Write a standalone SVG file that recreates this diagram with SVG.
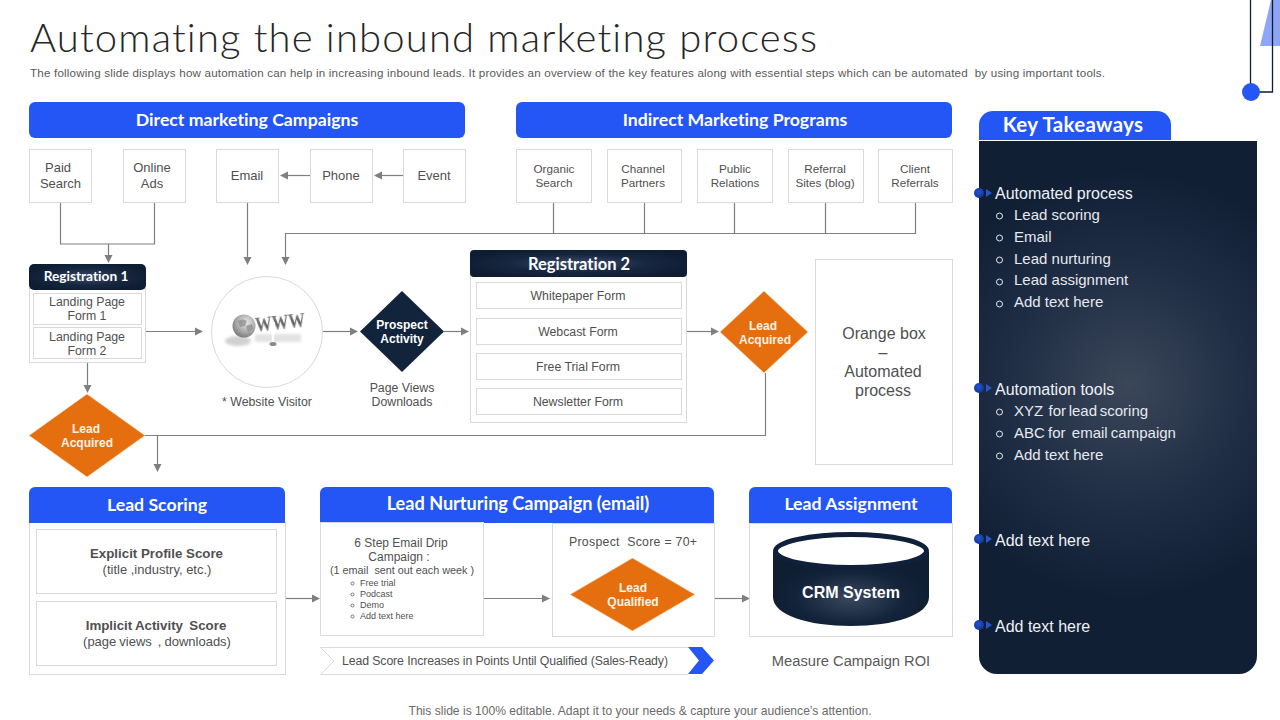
<svg xmlns="http://www.w3.org/2000/svg" width="1280" height="720" viewBox="0 0 1280 720">
<style>
text{font-family:"Liberation Sans",Arial,sans-serif;fill:#505050;text-anchor:middle;white-space:pre;font-variant-ligatures:none}
.h{font-family:Lato,"Liberation Sans",sans-serif;font-weight:700;fill:#fff;font-size:17.7px}
.box{fill:#fff;stroke:#d9d9d9;stroke-width:1}
.b12{font-size:12.300px}.b13{font-size:13px}
.blue{fill:#2456f5}
.org{fill:#e56f0f;stroke:#fbe3c8;stroke-width:.6}
.ow{fill:#fdf3e6;font-weight:700;font-size:12px}
.w{fill:#eef1f6;text-anchor:start;font-size:16px}
.w2{fill:#e6e9ef;text-anchor:start;font-size:15px}
.bul{fill:none;stroke:#e6e9ef;stroke-width:1}
.con path{fill:none;stroke:#7f7f7f;stroke-width:1.200}
.con polygon{fill:#7f7f7f}
</style>
<defs>
<radialGradient id="nav" cx="50%" cy="50%" r="55%"><stop offset="0" stop-color="#3a4b68"/><stop offset=".6" stop-color="#17263f"/><stop offset="1" stop-color="#0f1d33"/></radialGradient>
<radialGradient id="cyl" cx="50%" cy="62%" r="50%"><stop offset="0" stop-color="#39485f"/><stop offset=".7" stop-color="#13233a"/><stop offset="1" stop-color="#0f1e33"/></radialGradient>
<radialGradient id="pan" gradientUnits="userSpaceOnUse" cx="1128" cy="385" r="215"><stop offset="0" stop-color="#3b4659"/><stop offset=".55" stop-color="#1f2e45"/><stop offset="1" stop-color="#111f35"/></radialGradient>
<radialGradient id="ball" cx="45%" cy="40%" r="60%"><stop offset="0" stop-color="#2456d8"/><stop offset="1" stop-color="#14358f"/></radialGradient>
<radialGradient id="gl" cx="60%" cy="35%" r="70%"><stop offset="0" stop-color="#e9e9e9"/><stop offset=".6" stop-color="#a8a8a8"/><stop offset="1" stop-color="#777"/></radialGradient>
<linearGradient id="ww" x1="0" y1="0" x2="0" y2="1"><stop offset="0" stop-color="#8c8c8c"/><stop offset=".6" stop-color="#5f5f5f"/><stop offset="1" stop-color="#b5b5b5"/></linearGradient>
<filter id="soft" x="-20%" y="-20%" width="140%" height="140%"><feGaussianBlur stdDeviation="1.500"/></filter>
<filter id="soft2" x="-10%" y="-10%" width="120%" height="120%"><feGaussianBlur stdDeviation=".45"/></filter>
</defs>
<rect width="1280" height="720" fill="#fff"/>

<g id="title">
<text x="30" y="52" textLength="787" lengthAdjust="spacing" style="text-anchor:start;font-family:Lato,'Liberation Sans',sans-serif;font-weight:300;font-size:40px;fill:#262626">Automating the inbound marketing process</text>
<text x="30" y="77" style="text-anchor:start;font-size:11.600px;fill:#595959" textLength="1075" lengthAdjust="spacing">The following slide displays how automation can help in increasing inbound leads. It provides an overview of the key features along with essential steps which can be automated  by using important tools.</text>
</g>
<g id="corner-decoration">
<polygon points="1260,46 1280,46 1280,0 1271,0" fill="#8fa5f5"/>
<path d="M1250.500 0V92M1272.500 0V92H1251" fill="none" stroke="#0f1c33" stroke-width="1.300"/>
<circle cx="1251" cy="92" r="9" fill="#2456f5"/>
</g>

<g id="connectors" class="con">
<path d="M60.500 203V244H154.500V203M108.500 244V256"/><polygon points="104.500,255 112.500,255 108.500,263"/>
<path d="M247.500 203V257"/><polygon points="243.500,257 251.500,257 247.500,265"/>
<path d="M310 175.500H287"/><polygon points="288,171.500 288,179.500 280,175.500"/>
<path d="M403 175.500H381"/><polygon points="382,171.500 382,179.500 374,175.500"/>
<path d="M553.500 203V233.500M644.500 203V233.500M734.500 203V233.500M825.500 203V233.500M915.500 203V233.500H285.500V257"/><polygon points="281.500,257 289.500,257 285.500,265"/>
<path d="M146 331.500H195"/><polygon points="195,327.500 195,335.500 203,331.500"/>
<path d="M323 331.500H350"/><polygon points="350,327.500 350,335.500 358,331.500"/>
<path d="M444 331.500H461"/><polygon points="461,327.500 461,335.500 469,331.500"/>
<path d="M687 331.500H711"/><polygon points="711,327.500 711,335.500 719,331.500"/>
<path d="M87.500 363V385"/><polygon points="83.500,385 91.500,385 87.500,393"/>
<path d="M144 435.500H765.500V373"/>
<path d="M157.500 436V464"/><polygon points="153.500,464 161.500,464 157.500,472"/>
<path d="M286 598.500H312"/><polygon points="312,594.500 312,602.500 320,598.500"/>
<path d="M484 598.500H542"/><polygon points="542,594.500 542,602.500 550,598.500"/>
<path d="M715 598.500H742"/><polygon points="742,594.500 742,602.500 750,598.500"/>
</g>

<g id="direct-header"><rect x="29" y="102" width="436" height="36" rx="6" class="blue"/><text x="247" y="126" class="h">Direct marketing Campaigns</text></g>
<g id="indirect-header"><rect x="516" y="102" width="436" height="36" rx="6" class="blue"/><text x="735" y="126" class="h">Indirect Marketing Programs</text></g>

<g id="paid-search"><rect x="29.500" y="149.500" width="62" height="53" class="box"/><text class="b13"><tspan x="58" y="172">Paid</tspan><tspan x="60.500" y="188">Search</tspan></text></g>
<g id="online-ads"><rect x="123.500" y="149.500" width="62" height="53" class="box"/><text class="b13"><tspan x="152" y="172">Online</tspan><tspan x="152" y="188">Ads</tspan></text></g>
<g id="email"><rect x="216.500" y="149.500" width="62" height="53" class="box"/><text class="b13" x="247" y="180">Email</text></g>
<g id="phone"><rect x="310.500" y="149.500" width="62" height="53" class="box"/><text class="b13" x="341" y="180">Phone</text></g>
<g id="event"><rect x="403.500" y="149.500" width="62" height="53" class="box"/><text class="b13" x="434" y="180">Event</text></g>

<g id="organic-search"><rect x="516.500" y="149.500" width="75" height="53" class="box"/><text style="font-size:11.700px"><tspan x="554" y="173">Organic</tspan><tspan x="554" y="187">Search</tspan></text></g>
<g id="channel-partners"><rect x="607.500" y="149.500" width="74" height="53" class="box"/><text style="font-size:11.700px"><tspan x="643" y="173">Channel</tspan><tspan x="643" y="187">Partners</tspan></text></g>
<g id="public-relations"><rect x="697.500" y="149.500" width="75" height="53" class="box"/><text style="font-size:11.700px"><tspan x="735" y="173">Public</tspan><tspan x="735" y="187">Relations</tspan></text></g>
<g id="referral-sites"><rect x="788.500" y="149.500" width="75" height="53" class="box"/><text style="font-size:11.700px"><tspan x="825" y="173">Referral</tspan><tspan x="825" y="187">Sites (blog)</tspan></text></g>
<g id="client-referrals"><rect x="878.500" y="149.500" width="74" height="53" class="box"/><text style="font-size:11.700px"><tspan x="915" y="173">Client</tspan><tspan x="915" y="187">Referrals</tspan></text></g>

<g id="registration-1">
<rect x="29.500" y="288.500" width="116" height="74" class="box"/>
<rect x="29" y="264" width="117" height="26" rx="5" fill="url(#nav)"/>
<text class="h" x="86" y="281" style="font-size:13.700px">Registration 1</text>
<rect x="33.500" y="293.500" width="108" height="31" class="box"/>
<text class="b12"><tspan x="87" y="306">Landing Page</tspan><tspan x="87" y="320">Form 1</tspan></text>
<rect x="33.500" y="327.500" width="108" height="31" class="box"/>
<text class="b12"><tspan x="87" y="341">Landing Page</tspan><tspan x="87" y="355">Form 2</tspan></text>
</g>

<g id="website-visitor">
<circle cx="267" cy="332" r="55.500" class="box"/>
<ellipse cx="238" cy="341" rx="13" ry="5" fill="#bdbdbd" opacity=".7" filter="url(#soft)"/>
<rect x="255" y="334" width="46" height="8" fill="#cfcfcf" opacity=".6" filter="url(#soft)"/>
<circle cx="244" cy="326" r="11.500" fill="url(#gl)" filter="url(#soft2)"/>
<path d="M238 321q5-3 9 0l-2 5-5 1zM246 326l6-2 1 5-5 3z" fill="#8a8a8a" opacity=".7" filter="url(#soft2)"/>
<text x="256" y="332" transform="rotate(-6 256 332)" textLength="50" lengthAdjust="spacingAndGlyphs" filter="url(#soft2)" style="text-anchor:start;font-family:'Liberation Serif',serif;font-size:22px;font-weight:700;fill:url(#ww)">WWW</text>
<path d="M271 322l4 0-1 20h-2z" fill="#fff"/><ellipse cx="273" cy="344" rx="3.500" ry="2" fill="#8a8a8a"/>
<text class="b12" x="267" y="406">* Website Visitor</text>
</g>

<g id="prospect-activity">
<polygon points="402,291 444,331.500 402,372 360,331.500" fill="#12233c"/>
<text class="ow" style="fill:#fff"><tspan x="402" y="329">Prospect</tspan><tspan x="402" y="343">Activity</tspan></text>
<text class="b12"><tspan x="402" y="392">Page Views</tspan><tspan x="402" y="406">Downloads</tspan></text>
</g>

<g id="registration-2">
<rect x="470.500" y="275.500" width="216" height="147" class="box"/>
<rect x="470" y="250" width="217" height="27" rx="4" fill="url(#nav)"/>
<text class="h" x="579" y="270" style="font-size:16.500px">Registration 2</text>
<rect x="476.500" y="282.500" width="205" height="26" class="box"/><text class="b12" x="578" y="300">Whitepaper Form</text>
<rect x="476.500" y="318.500" width="205" height="26" class="box"/><text class="b12" x="578" y="336">Webcast Form</text>
<rect x="476.500" y="353.500" width="205" height="26" class="box"/><text class="b12" x="578" y="371">Free Trial Form</text>
<rect x="476.500" y="388.500" width="205" height="26" class="box"/><text class="b12" x="578" y="406">Newsletter Form</text>
</g>

<g id="lead-acquired-2"><polygon points="764,291 808,332 764,373 720,332" class="org"/><text class="ow"><tspan x="763" y="330">Lead</tspan><tspan x="765" y="344">Acquired</tspan></text></g>

<g id="orange-box"><rect x="815.500" y="259.500" width="137" height="205" class="box"/>
<text style="font-size:16px"><tspan x="884" y="339">Orange box</tspan><tspan x="883" y="358">–</tspan><tspan x="883" y="377">Automated</tspan><tspan x="883" y="396">process</tspan></text></g>

<g id="lead-acquired-1"><polygon points="87,394 145,435.500 87,477 29,435.500" class="org"/><text class="ow"><tspan x="86" y="433">Lead</tspan><tspan x="87" y="447">Acquired</tspan></text></g>

<g id="lead-scoring">
<rect x="29.500" y="522.500" width="256" height="152" class="box"/>
<path d="M29 523V493a6 6 0 0 1 6-6H279a6 6 0 0 1 6 6V523Z" class="blue"/>
<text class="h" x="157" y="511">Lead Scoring</text>
<rect x="36.500" y="529.500" width="240" height="64" class="box"/>
<text style="font-size:13px"><tspan x="156.500" y="558" style="font-weight:700;font-size:13.300px">Explicit Profile Score</tspan><tspan x="157" y="574">(title ,industry, etc.)</tspan></text>
<rect x="36.500" y="601.500" width="240" height="64" class="box"/>
<text style="font-size:13px"><tspan x="156" y="630" style="font-weight:700;font-size:13.300px;word-spacing:-.5px">Implicit Activity  Score</tspan><tspan x="157" y="646" style="word-spacing:-.6px">(page views  , downloads)</tspan></text>
</g>

<g id="lead-nurturing">
<path d="M320 523V493a6 6 0 0 1 6-6H708a6 6 0 0 1 6 6V523Z" class="blue"/>
<text class="h" x="518" y="510" style="font-size:18.100px">Lead Nurturing Campaign (email)</text>
<rect x="320.500" y="522.500" width="163" height="113" class="box"/>
<text style="font-size:12px"><tspan x="401" y="547">6 Step Email Drip</tspan><tspan x="399" y="561">Campaign :</tspan><tspan x="402" y="574" style="font-size:10.800px">(1 email  sent out each week )</tspan></text>
<text style="text-anchor:start;font-size:9px"><tspan x="360" y="586">Free trial</tspan><tspan x="360" y="597">Podcast</tspan><tspan x="360" y="608">Demo</tspan><tspan x="360" y="619">Add text here</tspan></text>
<g fill="none" stroke="#595959" stroke-width=".8"><circle cx="352.500" cy="583.500" r="1.500"/><circle cx="352.500" cy="594.500" r="1.500"/><circle cx="352.500" cy="605.500" r="1.500"/><circle cx="352.500" cy="616.500" r="1.500"/></g>
<rect x="552.500" y="523.500" width="162" height="113" class="box"/>
<text class="b12" x="633" y="546" textLength="128" lengthAdjust="spacing">Prospect  Score = 70+</text>
<polygon points="632.500,558 695,594.500 632.500,631 570,594.500" class="org"/>
<text class="ow"><tspan x="633" y="592">Lead</tspan><tspan x="633" y="606">Qualified</tspan></text>
</g>

<g id="lead-score-banner">
<path d="M688 647.500H320.500L334 661L320.500 674.500H688" fill="#fff" stroke="#d9d9d9"/>
<polygon points="688,647 702,647 714,660.500 702,674 688,674 699,660.500" class="blue"/>
<text class="b12" x="505" y="665" textLength="326" lengthAdjust="spacing">Lead Score Increases in Points Until Qualified (Sales-Ready)</text>
</g>

<g id="lead-assignment">
<rect x="749.500" y="523.500" width="203" height="113" class="box"/>
<path d="M749 523V493a6 6 0 0 1 6-6H946a6 6 0 0 1 6 6V523Z" class="blue"/>
<text class="h" x="851" y="510">Lead Assignment</text>
<path d="M773 552V597C773 615 808 626 851 626S929 615 929 597V552Z" fill="url(#cyl)"/>
<ellipse cx="851" cy="551" rx="75.500" ry="16.500" fill="#fff" stroke="#10203a" stroke-width="5"/>
<text x="851" y="598" style="font-size:16px;font-weight:700;fill:#fff">CRM System</text>
<text x="851" y="666" style="font-size:14.700px;fill:#595959">Measure Campaign ROI</text>
</g>

<g id="key-takeaways">
<path d="M979 141H1257V656a18 18 0 0 1-18 18H997a18 18 0 0 1-18-18Z" fill="url(#pan)"/>
<path d="M979 140V125a14 14 0 0 1 14-14H1157a14 14 0 0 1 14 14V140Z" class="blue"/>
<text class="h" x="1073" y="132" style="font-size:20.500px;letter-spacing:.3px">Key Takeaways</text>
<g fill="url(#ball)"><circle cx="979" cy="193" r="5"/><circle cx="979" cy="388" r="5"/><circle cx="979" cy="539" r="5"/><circle cx="979" cy="625" r="5"/></g>
<g fill="#2a55c8"><polygon points="986,189 992,193 986,197"/><polygon points="986,384 992,388 986,392"/><polygon points="986,535 992,539 986,543"/><polygon points="986,621 992,625 986,629"/></g>
<text class="w" x="995" y="199">Automated process</text>
<text class="w2"><tspan x="1014" y="220">Lead scoring</tspan><tspan x="1014" y="242">Email</tspan><tspan x="1014" y="264">Lead nurturing</tspan><tspan x="1014" y="285">Lead assignment</tspan><tspan x="1014" y="307">Add text here</tspan></text>
<g class="bul"><circle cx="999.500" cy="216" r="3"/><circle cx="999.500" cy="238" r="3"/><circle cx="999.500" cy="260" r="3"/><circle cx="999.500" cy="282" r="3"/><circle cx="999.500" cy="304" r="3"/></g>
<text class="w" x="995" y="395">Automation tools</text>
<text class="w2"><tspan x="1014" y="416" style="word-spacing:-1.500px">XYZ  for lead scoring</tspan><tspan x="1014" y="438" style="word-spacing:-1px">ABC for  email campaign</tspan><tspan x="1014" y="460">Add text here</tspan></text>
<g class="bul"><circle cx="999.500" cy="412" r="3"/><circle cx="999.500" cy="434" r="3"/><circle cx="999.500" cy="456" r="3"/></g>
<text class="w" x="995" y="546">Add text here</text>
<text class="w" x="995" y="632">Add text here</text>
</g>

<text id="footer" x="640" y="715" style="font-size:12.100px;fill:#6a6a6a">This slide is 100% editable. Adapt it to your needs &amp; capture your audience’s attention.</text>
</svg>
